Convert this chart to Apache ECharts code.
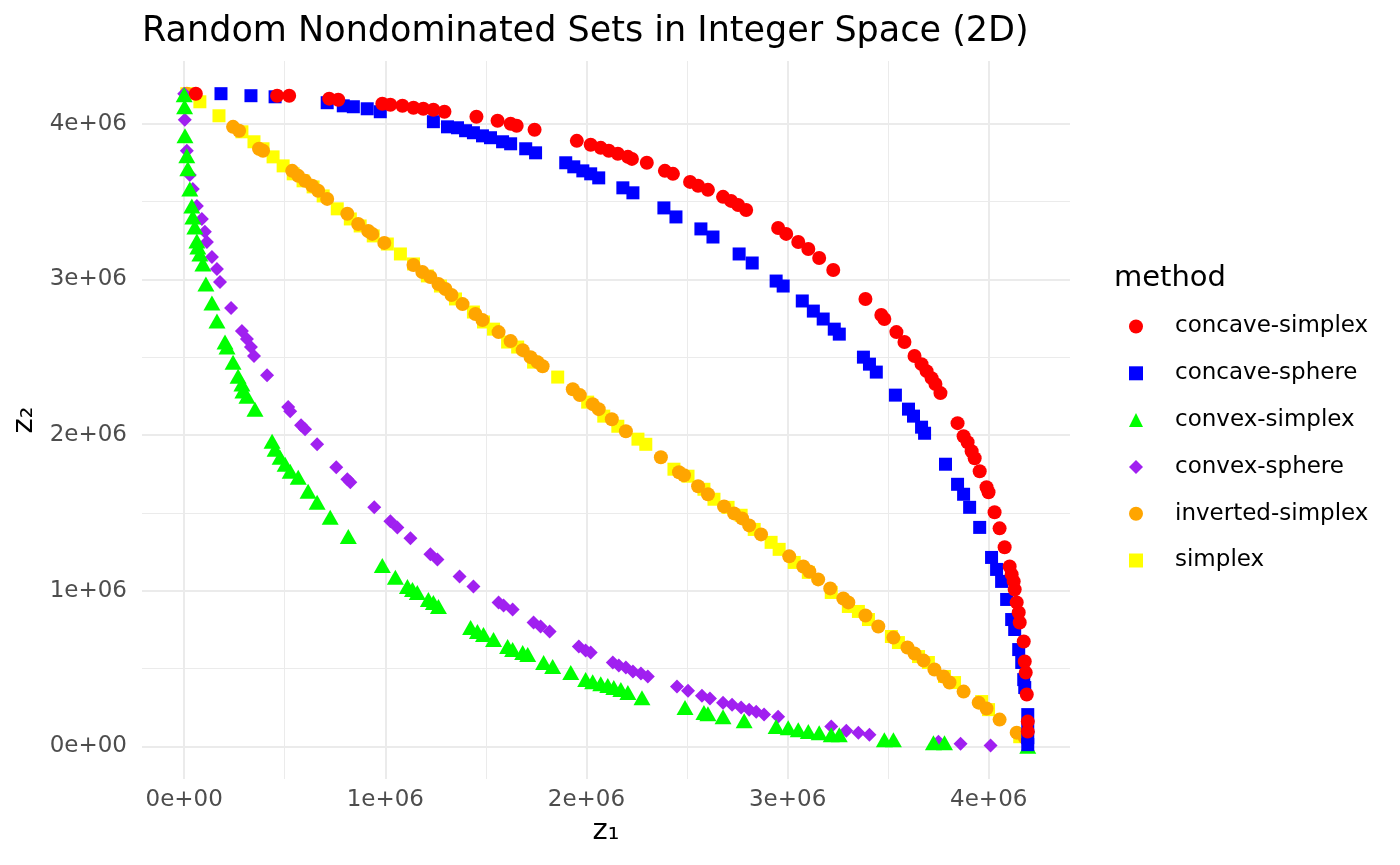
<!DOCTYPE html>
<html>
<head>
<meta charset="utf-8">
<title>Random Nondominated Sets in Integer Space (2D)</title>
<script src="https://cdn.jsdelivr.net/npm/echarts@6/dist/echarts.min.js"></script>
<style>
  html, body { margin: 0; padding: 0; background: #fff; }
  #main { width: 1400px; height: 865px; }
</style>
</head>
<body>
<div id="main"></div>
<script>
var chart = echarts.init(document.getElementById('main'));

/****** data (values in units of 1e6) ******/
var methods = ['concave-simplex', 'concave-sphere', 'convex-simplex', 'convex-sphere', 'inverted-simplex', 'simplex'];
var tickValues = [0, 1, 2, 3, 4];
var minorValues = [0.5, 1.5, 2.5, 3.5];

var concaveSimplex = [
  [0.058,4.194],[0.462,4.181],[0.522,4.181],[0.721,4.162],[0.766,4.155],[0.985,4.129],[1.025,4.123],
  [1.085,4.116],[1.140,4.104],[1.189,4.097],[1.239,4.091],[1.294,4.078],[1.453,4.046],[1.558,4.020],
  [1.623,4.001],[1.653,3.988],[1.742,3.962],[1.952,3.891],[2.021,3.866],[2.071,3.846],[2.111,3.827],
  [2.156,3.808],[2.206,3.788],[2.226,3.775],[2.300,3.750],[2.390,3.698],[2.430,3.679],[2.515,3.627],
  [2.555,3.602],[2.604,3.576],[2.679,3.531],[2.719,3.505],[2.754,3.479],[2.794,3.447],[2.953,3.331],
  [2.993,3.293],[3.053,3.241],[3.103,3.196],[3.157,3.138],[3.227,3.061],[3.387,2.875],[3.466,2.772],
  [3.481,2.746],[3.541,2.662],[3.581,2.598],[3.631,2.508],[3.666,2.456],[3.691,2.411],[3.716,2.366],
  [3.735,2.328],[3.760,2.270],[3.845,2.077],[3.875,1.993],[3.895,1.954],[3.915,1.896],[3.930,1.851],
  [3.955,1.768],[3.989,1.665],[3.999,1.633],[4.029,1.504],[4.054,1.401],[4.079,1.279],[4.104,1.156],
  [4.114,1.105],[4.124,1.060],[4.129,1.008],[4.139,0.925],[4.149,0.860],[4.154,0.796],[4.174,0.674],
  [4.179,0.545],[4.184,0.474],[4.189,0.333],[4.194,0.159],[4.194,0.095]
];
var concaveSphere = [
  [0.183,4.194],[0.332,4.181],[0.452,4.174],[0.711,4.136],[0.791,4.116],[0.841,4.110],[0.910,4.097],
  [0.975,4.078],[1.239,4.014],[1.309,3.981],[1.359,3.975],[1.399,3.956],[1.438,3.943],[1.483,3.923],
  [1.523,3.911],[1.583,3.885],[1.623,3.872],[1.698,3.840],[1.747,3.814],[1.897,3.750],[1.937,3.724],
  [1.982,3.698],[2.021,3.679],[2.061,3.653],[2.181,3.589],[2.231,3.557],[2.385,3.460],[2.445,3.402],
  [2.569,3.325],[2.629,3.273],[2.759,3.164],[2.824,3.106],[2.943,2.990],[2.978,2.958],[3.073,2.862],
  [3.128,2.797],[3.177,2.746],[3.232,2.681],[3.257,2.649],[3.377,2.501],[3.407,2.456],[3.441,2.405],
  [3.536,2.257],[3.601,2.167],[3.626,2.122],[3.666,2.051],[3.681,2.012],[3.785,1.813],[3.845,1.684],
  [3.875,1.620],[3.905,1.536],[3.955,1.407],[4.014,1.214],[4.039,1.137],[4.064,1.060],[4.089,0.944],
  [4.114,0.815],[4.129,0.751],[4.149,0.622],[4.164,0.539],[4.174,0.429],[4.179,0.378],[4.194,0.204],
  [4.194,0.127],[4.194,0.056],[4.194,0.011]
];
var convexSimplex = [
  [0.000,4.187],[0.002,4.110],[0.004,3.923],[0.013,3.795],[0.018,3.711],[0.028,3.582],[0.038,3.473],
  [0.043,3.402],[0.053,3.338],[0.063,3.248],[0.068,3.209],[0.078,3.164],[0.093,3.100],[0.108,2.971],
  [0.138,2.849],[0.163,2.733],[0.203,2.598],[0.213,2.566],[0.243,2.469],[0.268,2.379],[0.287,2.328],
  [0.292,2.283],[0.312,2.250],[0.352,2.167],[0.437,1.961],[0.452,1.909],[0.477,1.858],[0.502,1.813],
  [0.527,1.768],[0.567,1.729],[0.616,1.639],[0.661,1.568],[0.726,1.472],[0.816,1.349],[0.985,1.163],
  [1.050,1.086],[1.110,1.028],[1.135,1.008],[1.159,0.989],[1.214,0.944],[1.239,0.925],[1.264,0.899],
  [1.424,0.764],[1.458,0.738],[1.488,0.719],[1.538,0.687],[1.608,0.642],[1.633,0.622],[1.683,0.603],
  [1.708,0.590],[1.787,0.539],[1.832,0.513],[1.922,0.474],[1.996,0.429],[2.031,0.416],[2.071,0.403],
  [2.106,0.391],[2.136,0.378],[2.171,0.365],[2.206,0.346],[2.276,0.313],[2.490,0.249],[2.584,0.217],
  [2.604,0.210],[2.679,0.191],[2.784,0.165],[2.943,0.127],[3.003,0.120],[3.053,0.107],[3.103,0.095],
  [3.157,0.088],[3.217,0.075],[3.257,0.075],[3.481,0.043],[3.526,0.043],[3.725,0.024],[3.780,0.024],
  [4.194,0.000]
];
var convexSphere = [
  [0.000,4.194],[0.003,4.026],[0.013,3.827],[0.028,3.672],[0.043,3.582],[0.063,3.473],[0.088,3.389],
  [0.103,3.306],[0.113,3.241],[0.138,3.145],[0.163,3.068],[0.178,2.984],[0.233,2.817],[0.287,2.669],
  [0.312,2.617],[0.332,2.566],[0.347,2.508],[0.412,2.385],[0.517,2.180],[0.527,2.154],[0.581,2.064],
  [0.601,2.038],[0.661,1.941],[0.756,1.793],[0.811,1.716],[0.826,1.697],[0.945,1.536],[1.025,1.446],
  [1.060,1.407],[1.125,1.337],[1.224,1.234],[1.259,1.201],[1.369,1.092],[1.438,1.028],[1.563,0.925],
  [1.588,0.905],[1.633,0.880],[1.737,0.796],[1.772,0.770],[1.817,0.738],[1.962,0.642],[1.996,0.616],
  [2.021,0.603],[2.131,0.539],[2.161,0.519],[2.196,0.506],[2.231,0.481],[2.271,0.468],[2.305,0.449],
  [2.450,0.384],[2.505,0.358],[2.574,0.326],[2.614,0.307],[2.679,0.281],[2.724,0.268],[2.769,0.249],
  [2.809,0.236],[2.844,0.223],[2.883,0.204],[2.953,0.191],[3.217,0.127],[3.292,0.101],[3.352,0.088],
  [3.407,0.075],[3.750,0.030],[3.860,0.017],[4.009,0.005]
];
var invertedSimplex = [
  [0.013,4.194],[0.243,3.981],[0.273,3.956],[0.372,3.840],[0.392,3.827],[0.537,3.698],[0.567,3.666],
  [0.601,3.634],[0.636,3.602],[0.666,3.570],[0.711,3.518],[0.811,3.422],[0.865,3.357],[0.915,3.312],
  [0.935,3.293],[0.995,3.235],[1.140,3.093],[1.184,3.048],[1.224,3.016],[1.264,2.971],[1.299,2.939],
  [1.329,2.900],[1.384,2.842],[1.448,2.778],[1.483,2.739],[1.563,2.662],[1.623,2.604],[1.683,2.546],
  [1.722,2.501],[1.757,2.469],[1.782,2.443],[1.932,2.295],[1.967,2.257],[2.031,2.199],[2.061,2.167],
  [2.126,2.102],[2.196,2.025],[2.370,1.858],[2.460,1.761],[2.485,1.742],[2.555,1.671],[2.604,1.620],
  [2.684,1.542],[2.734,1.497],[2.774,1.465],[2.809,1.420],[2.868,1.362],[3.008,1.221],[3.078,1.156],
  [3.108,1.124],[3.152,1.073],[3.212,1.015],[3.277,0.950],[3.302,0.925],[3.387,0.841],[3.451,0.770],
  [3.526,0.699],[3.596,0.635],[3.631,0.597],[3.676,0.551],[3.730,0.494],[3.775,0.449],[3.805,0.410],
  [3.875,0.352],[3.950,0.281],[3.989,0.243],[4.054,0.172],[4.139,0.088],[4.179,0.056]
];
var simplex = [
  [0.013,4.194],[0.078,4.142],[0.173,4.052],[0.287,3.949],[0.347,3.885],[0.392,3.840],[0.442,3.788],
  [0.492,3.730],[0.542,3.679],[0.591,3.634],[0.641,3.595],[0.691,3.537],[0.761,3.454],[0.826,3.389],
  [0.875,3.344],[0.940,3.280],[1.010,3.228],[1.075,3.164],[1.140,3.100],[1.209,3.023],[1.274,2.958],
  [1.349,2.875],[1.438,2.791],[1.488,2.727],[1.538,2.681],[1.608,2.598],[1.658,2.566],[1.737,2.469],
  [1.857,2.373],[2.006,2.212],[2.086,2.122],[2.156,2.057],[2.256,1.974],[2.295,1.941],[2.435,1.781],
  [2.505,1.736],[2.584,1.652],[2.634,1.588],[2.704,1.536],[2.769,1.485],[2.834,1.394],[2.918,1.311],
  [2.958,1.266],[3.033,1.182],[3.103,1.118],[3.217,0.989],[3.302,0.899],[3.352,0.867],[3.402,0.815],
  [3.516,0.706],[3.551,0.667],[3.651,0.577],[3.700,0.539],[3.780,0.449],[3.830,0.410],[3.965,0.288],
  [3.999,0.236],[4.154,0.062]
];

var axisMin = -0.2097;
var axisMax = 4.4040;
var FONT = 'DejaVu Sans';

function sciLabel(v) {
    return v === 0 ? '0e+00' : v + 'e+06';
}

// ggplot-style panel grid drawn as mark lines (major ticks sit off the axis min)
function gridLines(values, width) {
    var lines = [];
    values.forEach(function (v) {
        lines.push({xAxis: v});
        lines.push({yAxis: v});
    });
    return {
        name: '',
        type: 'scatter',
        data: [],
        z: 1,
        silent: true,
        markLine: {
            silent: true,
            symbol: 'none',
            z: 1,
            animation: false,
            label: {show: false},
            emphasis: {disabled: true},
            lineStyle: {color: '#ebebeb', width: width, type: 'solid'},
            data: lines
        }
    };
}

function pointSeries(name, data, symbol, size, color) {
    return {
        name: name,
        type: 'scatter',
        data: data,
        symbol: symbol,
        symbolSize: size,
        z: 3,
        itemStyle: {color: color, opacity: 1},
        emphasis: {disabled: true}
    };
}

var option = {
    animation: false,
    backgroundColor: '#ffffff',
    textStyle: {fontFamily: FONT},
    title: [{
        text: 'Random Nondominated Sets in Integer Space (2D)',
        left: 137,
        top: 9,
        textStyle: {fontFamily: FONT, fontSize: 35, fontWeight: 'normal', color: '#000'}
    }, {
        text: 'method',
        left: 1109,
        top: 259,
        textStyle: {fontFamily: FONT, fontSize: 29, fontWeight: 'normal', color: '#000'}
    }],
    legend: {
        orient: 'vertical',
        left: 1129,
        top: 315,
        padding: 0,
        itemWidth: 14,
        itemHeight: 14,
        itemGap: 23.8,
        data: methods,
        textStyle: {fontFamily: FONT, fontSize: 23, color: '#000', padding: [0, 0, 0, 27]}
    },
    grid: {left: 142, right: 330, top: 61, bottom: 86},
    xAxis: {
        type: 'value',
        min: axisMin,
        max: axisMax,
        name: 'z₁',
        nameLocation: 'middle',
        nameGap: 30,
        nameTextStyle: {fontFamily: FONT, fontSize: 29, color: '#000'},
        axisLine: {show: false},
        axisTick: {show: false},
        splitLine: {show: false},
        axisLabel: {
            customValues: tickValues,
            formatter: sciLabel,
            fontFamily: FONT, fontSize: 23, color: '#4d4d4d', margin: 10
        }
    },
    yAxis: {
        type: 'value',
        min: axisMin,
        max: axisMax,
        name: 'z₂',
        nameLocation: 'middle',
        nameGap: 100,
        nameTextStyle: {fontFamily: FONT, fontSize: 29, color: '#000'},
        axisLine: {show: false},
        axisTick: {show: false},
        splitLine: {show: false},
        axisLabel: {
            customValues: tickValues,
            formatter: sciLabel,
            fontFamily: FONT, fontSize: 23, color: '#4d4d4d', margin: 15
        }
    },
    series: [
        gridLines(minorValues, 1),
        gridLines(tickValues, 2),
        pointSeries('simplex', simplex, 'rect', 13, '#ffff00'),
        pointSeries('inverted-simplex', invertedSimplex, 'circle', 14, '#ffa500'),
        pointSeries('convex-sphere', convexSphere, 'diamond', 14, '#a020f0'),
        pointSeries('convex-simplex', convexSimplex, 'triangle', [17, 15], '#00ff00'),
        pointSeries('concave-sphere', concaveSphere, 'rect', 13, '#0000ff'),
        pointSeries('concave-simplex', concaveSimplex, 'circle', 14, '#ff0000')
    ]
};

chart.setOption(option);
</script>
</body>
</html>
